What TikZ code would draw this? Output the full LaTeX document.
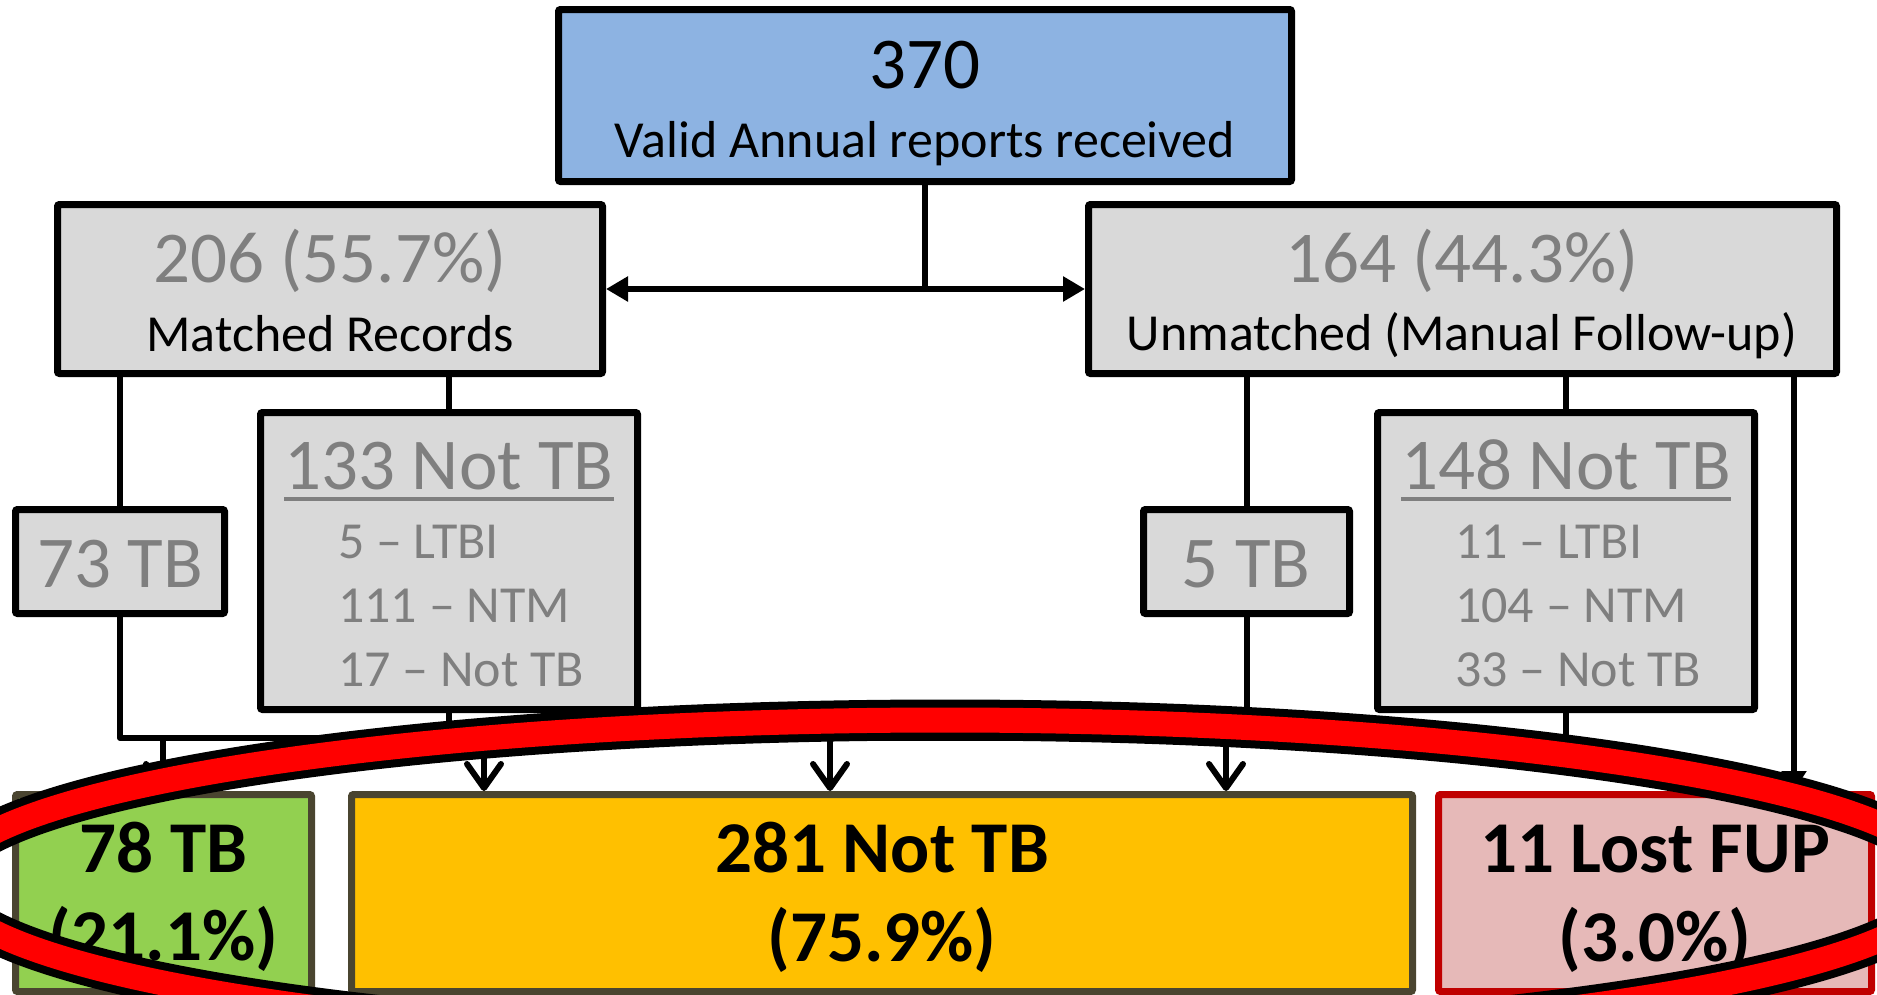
\documentclass[tikz,border=0pt]{standalone}
\usepackage{fontspec}
\setmainfont{Carlito}
\usetikzlibrary{arrows.meta}
\definecolor{topblue}{HTML}{8DB3E2}
\definecolor{boxgray}{HTML}{D9D9D9}
\definecolor{txtgray}{HTML}{7F7F7F}
\definecolor{olivedraw}{HTML}{4A4530}
\definecolor{tbgreen}{HTML}{92D050}
\definecolor{nottbfill}{HTML}{FFC000}
\definecolor{lostfill}{HTML}{E6B9B8}
\definecolor{lostdraw}{HTML}{C00000}
\definecolor{ringred}{HTML}{FF0000}
\begin{document}
\begin{tikzpicture}[x=1pt,y=-1pt,
  boxbase/.style={rectangle, line width=7pt, rounded corners=2pt, inner sep=0pt},
  graybox/.style={boxbase, draw=black, fill=boxgray},
  bluebox/.style={boxbase, draw=black, fill=topblue},
  greenbox/.style={boxbase, draw=olivedraw, fill=tbgreen},
  orangebox/.style={boxbase, draw=olivedraw, fill=nottbfill},
  lostbox/.style={boxbase, draw=lostdraw, fill=lostfill},
  txt/.style={inner sep=0pt, anchor=base},
  big/.style={txt, font=\fontsize{73}{88}\selectfont},
  mid/.style={txt, font=\fontsize{52}{62}\selectfont},
  bigbold/.style={txt, font=\fontsize{73}{88}\selectfont\bfseries},
  subitem/.style={inner sep=0pt, anchor=base west, text=txtgray, font=\fontsize{52}{62}\selectfont},
  conn/.style={draw=black, line width=6pt, line join=round},
  barb/.style={-{Straight Barb[length=24pt,width=34pt,round]}},
  tri/.style={-{Triangle[length=20pt,width=24pt]}},
  dbl/.style={{Triangle[length=22pt,width=24pt]}-{Triangle[length=22pt,width=24pt]}},
  ulinestyle/.style={draw=txtgray, line width=4.5pt}
]
\useasboundingbox (0,0) rectangle (1877,994);
\fill[white] (0,0) rectangle (1877,994);

% boxes
\node[bluebox, minimum width=733pt, minimum height=172pt] (top) at (925,95.5) {};
\node[graybox, minimum width=545pt, minimum height=169pt] (m) at (330,289) {};
\node[graybox, minimum width=748pt, minimum height=169pt] (u) at (1462.5,289) {};
\node[graybox, minimum width=209pt, minimum height=104pt] (tb73) at (120,561.5) {};
\node[graybox, minimum width=377pt, minimum height=297pt] (n133) at (449,561) {};
\node[graybox, minimum width=206pt, minimum height=104pt] (tb5) at (1246.5,561.5) {};
\node[graybox, minimum width=377pt, minimum height=297pt] (n148) at (1566,561) {};
\node[greenbox, minimum width=296pt, minimum height=197pt] (tb78) at (163.5,893) {};
\node[orangebox, minimum width=1061pt, minimum height=197pt] (n281) at (882,893) {};
\node[lostbox, minimum width=433pt, minimum height=197pt] (lost) at (1655,893) {};

% texts
\node[big] (t370) at (925,88) {370};
\node[mid] (tvalid) at (925,157) {Valid Annual reports received};
\node[big, text=txtgray] (t206) at (330,282) {206 (55.7\%)};
\node[mid] (tmatched) at (330,351) {Matched Records};
\node[big, text=txtgray] (t164) at (1462,282) {164 (44.3\%)};
\node[mid] (tunm) at (1462,350) {Unmatched (Manual Follow-up)};
\node[big, text=txtgray] (t73) at (120,587) {73 TB};
\node[big, text=txtgray] (t5) at (1246,587) {5 TB};
\node[big, text=txtgray] (t133) at (449,489) {133 Not TB};
\node[big, text=txtgray] (t148) at (1566,489) {148 Not TB};
\draw[ulinestyle] ([yshift=-10pt]t133.base west) -- ([yshift=-10pt]t133.base east);
\draw[ulinestyle] ([yshift=-10pt]t148.base west) -- ([yshift=-10pt]t148.base east);
\node[subitem] (l1) at (338,558) {5 – LTBI};
\node[subitem] (l2) at (338,622) {111 – NTM};
\node[subitem] (l3) at (338,686) {17 – Not TB};
\node[subitem] (r1) at (1455,558) {11 – LTBI};
\node[subitem] (r2) at (1455,622) {104 – NTM};
\node[subitem] (r3) at (1455,686) {33 – Not TB};
\node[bigbold] (t78) at (163.5,872) {78 TB};
\node[bigbold] (t78b) at (163.5,960) {(21.1\%)};
\node[bigbold] (t281) at (882,872) {281 Not TB};
\node[bigbold] (t281b) at (882,961) {(75.9\%)};
\node[bigbold] (t11) at (1655,872) {11 Lost FUP};
\node[bigbold] (t11b) at (1655,961) {(3.0\%)};

% connectors
\draw[conn] (top.south) -- (top.south |- m.east);
\draw[conn, dbl] (m.east) -- (u.west);
\draw[conn] (m.south -| tb73.north) -- (tb73.north);
\draw[conn] (m.south -| n133.north) -- (n133.north);
\draw[conn] (u.south -| tb5.north) -- (tb5.north);
\draw[conn] (u.south -| n148.north) -- (n148.north);
\coordinate (lostx) at (1794,0);
\draw[conn, tri] (u.south -| lostx) -- (lost.north -| lostx);

\coordinate (busL) at (120,738);
\coordinate (busR) at (1566,738);
\draw[conn] (tb73.south) |- (busR) -- (n148.south);
\draw[conn] (n133.south) -- (n133.south |- busL);
\draw[conn] (tb5.south) -- (tb5.south |- busL);
\coordinate (a1) at (163,738);
\coordinate (a2) at (484,738);
\coordinate (a3) at (830,738);
\coordinate (a4) at (1226,738);
\draw[conn, barb] (a1) -- (a1 |- tb78.north);
\draw[conn, barb] (a2) -- (a2 |- n281.north);
\draw[conn, barb] (a3) -- (a3 |- n281.north);
\draw[conn, barb] (a4) -- (a4 |- n281.north);

% red ring
\draw[black, line width=41pt] (945,882) ellipse [x radius=1000, y radius=162];
\draw[ringred, line width=25pt] (945,882) ellipse [x radius=1000, y radius=162];
\end{tikzpicture}
\end{document}
